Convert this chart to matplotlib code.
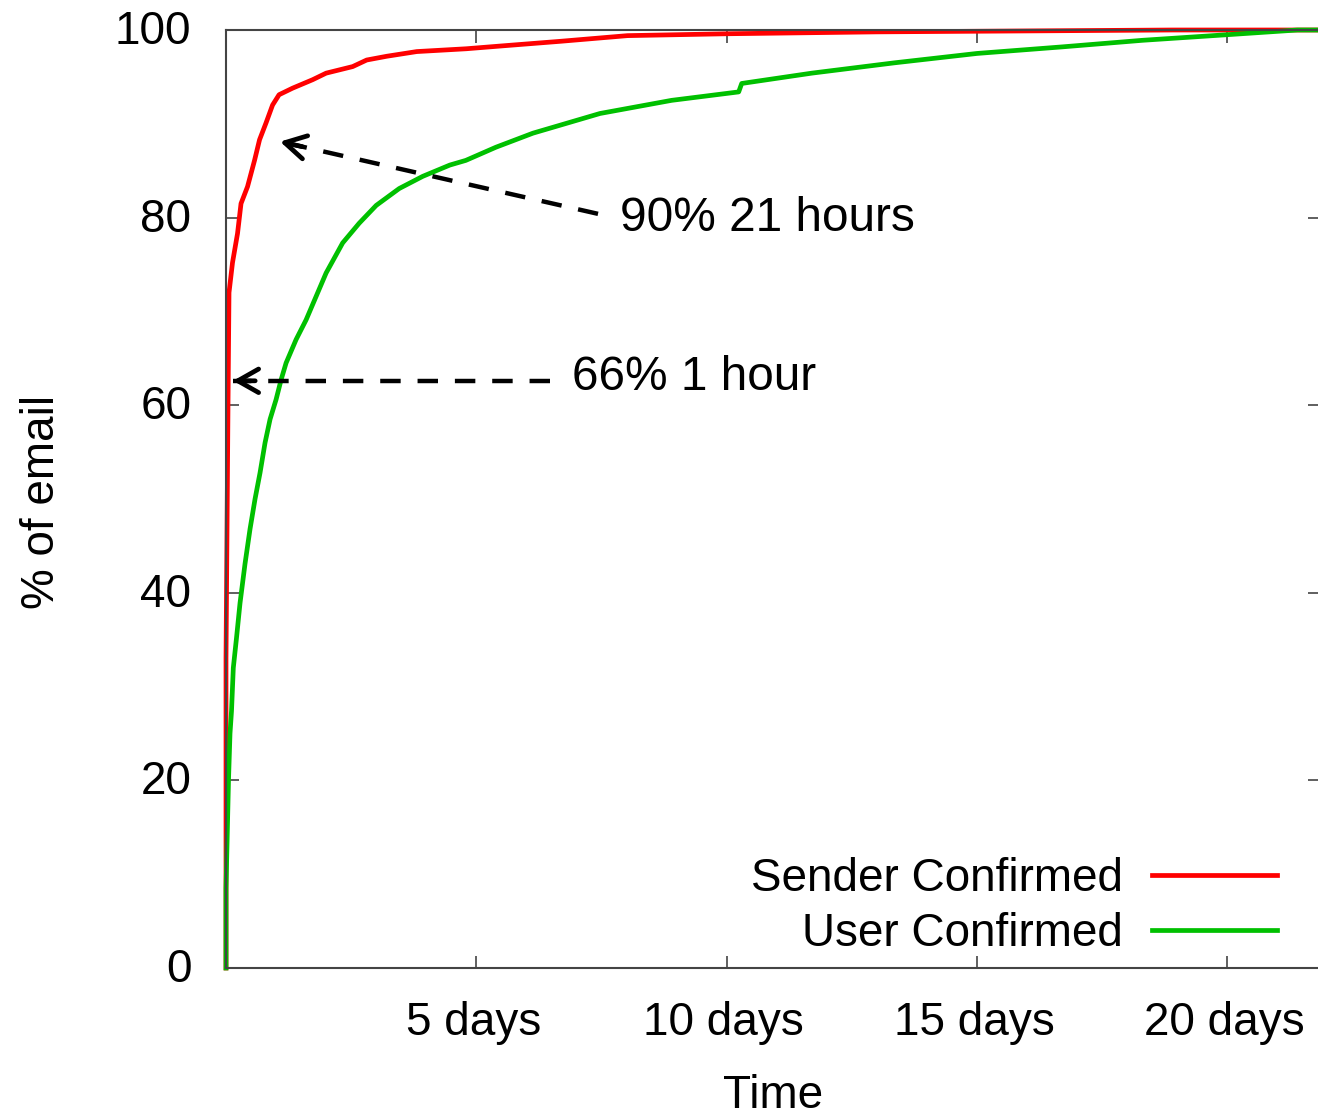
import matplotlib
matplotlib.use("Agg")
import matplotlib.pyplot as plt
from matplotlib.transforms import ScaledTranslation

plt.rcParams['font.family'] = ['Liberation Sans', 'DejaVu Sans']

# ---- data (days, % of email) ----
sender_days = [0, 0, 0.0, 0.04, 0.06, 0.13, 0.23, 0.30, 0.43, 0.57, 0.67, 0.80, 0.93,
               1.06, 1.33, 1.73, 2.0, 2.53, 2.81, 3.21, 3.81, 4.8, 5.5, 6.69, 8.02,
               10.02, 13.0, 18.9, 21.85]
sender_pct = [0, 9, 33, 60, 72.0, 75.2, 78.3, 81.5, 83.3, 86.1, 88.3, 90.1, 92.0,
              93.1, 93.8, 94.7, 95.4, 96.1, 96.8, 97.2, 97.7, 98.0, 98.3, 98.8, 99.4,
              99.6, 99.8, 100, 100]

user_days = [0, 0, 0.05, 0.08, 0.11, 0.146, 0.21, 0.28, 0.38, 0.48, 0.58, 0.68, 0.78,
             0.88, 1.0, 1.1, 1.2, 1.4, 1.6, 1.8, 2.0, 2.33, 2.66, 3.0, 3.46, 3.93,
             4.47, 4.79, 5.39, 6.13, 7.47, 8.9, 10.24, 10.3, 11.7, 13.35, 15.0, 16.7,
             18.3, 20.0, 21.4, 21.85]
user_pct = [0, 8.5, 20, 25, 27.4, 32.0, 35.2, 38.9, 43.1, 46.8, 50.0, 52.8, 56.0,
            58.5, 60.6, 62.7, 64.5, 67.0, 69.1, 71.6, 74.1, 77.3, 79.4, 81.3, 83.1,
            84.4, 85.6, 86.1, 87.5, 89.0, 91.1, 92.5, 93.4, 94.3, 95.4, 96.5, 97.5,
            98.2, 98.9, 99.5, 100, 100]

series_labels = ["Sender Confirmed", "User Confirmed"]
series_colors = ["#ff0000", "#00c000"]

x_ticks = [5, 10, 15, 20]
x_ticklabels = ["5 days", "10 days", "15 days", "20 days"]
y_ticks = [0, 20, 40, 60, 80, 100]

# annotations: (text, text_pos, arrow_tail, arrow_tip)
ann_90 = ("90% 21 hours", (7.87, 79.9), (7.43, 80.4), (1.08, 88.1))
ann_66 = ("66% 1 hour", (6.91, 62.9), (6.47, 62.6), (0.14, 62.6))

W, H = 1318, 1118
fig = plt.figure(figsize=(W / 100, H / 100), dpi=100)
ax = fig.add_axes([226 / W, 150 / H, 1094 / W, 938 / H])

FS = 33
spine_col = "#444444"

ax.plot(sender_days, sender_pct, color=series_colors[0], lw=3.4,
        label=series_labels[0], clip_on=False)
ax.plot(user_days, user_pct, color=series_colors[1], lw=3.4,
        label=series_labels[1], clip_on=False)

ax.set_xlim(0, 21.85)
ax.set_ylim(0, 100)
ax.set_xticks(x_ticks)
ax.set_xticklabels(x_ticklabels)
ax.set_yticks(y_ticks)
ax.tick_params(direction='in', top=True, right=True, length=9, width=1.2,
               color=spine_col, labelsize=FS)
ax.tick_params(axis='y', pad=25)
ax.tick_params(axis='x', pad=24)
for s in ax.spines.values():
    s.set_color(spine_col)
    s.set_linewidth(1.5)

# nudge y tick labels up slightly, x tick labels slightly left
for lab in ax.get_yticklabels():
    lab.set_transform(lab.get_transform() + ScaledTranslation(0, 3 / 100, fig.dpi_scale_trans))
for lab in ax.get_xticklabels():
    lab.set_transform(lab.get_transform() + ScaledTranslation(-3 / 100, 0, fig.dpi_scale_trans))

ax.set_xlabel("Time", fontsize=FS)
ax.set_ylabel("% of email", fontsize=FS)
ax.xaxis.set_label_coords(0.5, -0.1135)
ax.yaxis.set_label_coords(-0.148, 0.497)


def dashed_arrow(tail, tip):
    ax.plot([tail[0], tip[0]], [tail[1], tip[1]], color='black', lw=3.2,
            linestyle=(0, (4.6, 3.8)), dash_capstyle='butt')
    near = (tip[0] + 0.07 * (tail[0] - tip[0]), tip[1] + 0.07 * (tail[1] - tip[1]))
    ax.annotate('', xy=tip, xytext=near,
                arrowprops=dict(arrowstyle='->,head_length=15,head_width=8.5',
                                mutation_scale=1, lw=3.4, color='black',
                                shrinkA=0, shrinkB=0))


for text, tpos, tail, tip in (ann_90, ann_66):
    dashed_arrow(tail, tip)
    ax.text(tpos[0], tpos[1], text, fontsize=34.4, ha='left', va='center')

leg = ax.legend(loc='lower right', bbox_to_anchor=(1277 / W, 162 / H),
                bbox_transform=fig.transFigure, frameon=False, markerfirst=False,
                fontsize=FS, handlelength=125 / 46, handletextpad=0.65,
                labelspacing=0.25, borderpad=0, borderaxespad=0)
for t in leg.get_texts():
    t.set_ha('right')

fig.savefig("out.png", dpi=100)
